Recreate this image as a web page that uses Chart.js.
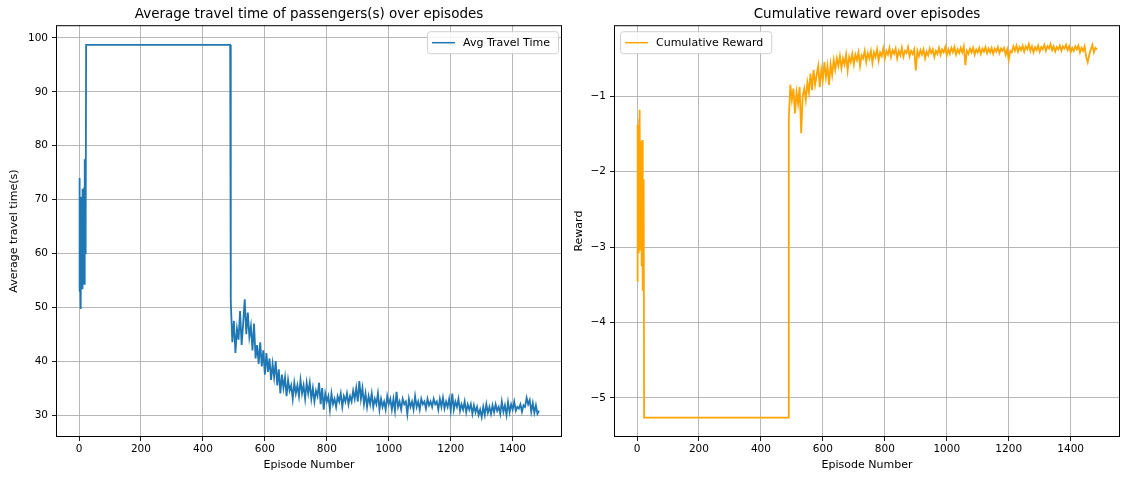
<!DOCTYPE html>
<html>
<head>
<meta charset="utf-8">
<script src="https://cdn.jsdelivr.net/npm/chart.js@4/dist/chart.umd.min.js"></script>
<style>
  html, body { margin: 0; padding: 0; background: #fff; }
  #wrap { position: relative; width: 1124px; height: 477px; }
  canvas { position: absolute; top: 0; }
</style>
</head>
<body>
<div id="wrap">
  <canvas id="travelChart" width="565" height="477" style="left:0"></canvas>
  <canvas id="rewardChart" width="559" height="477" style="left:565px"></canvas>
</div>
<script>
// episodes 0..22, one value per episode
var earlyTravel = [53, 74, 53.5, 70.5, 55, 68, 49.7, 70.5, 54, 66, 53.5, 72, 55, 70, 54.2, 68, 56, 72.3, 54.2, 77.5, 60, 75, 64.5];
var earlyReward = [-3.45, -1.43, -2.9, -1.38, -3.07, -1.6, -2.2, -1.3, -3.05, -1.18, -2.6, -1.6, -3.0, -1.6, -3.25, -1.8, -2.7, -1.58, -3.58, -2.1, -3.3, -2.1, -2.12];

// flat stretch
var plateauEpisodes = [23, 488];
var plateauTravel = [98.7, 98.7];
var plateauReward = [-5.26, -5.26];

// episodes 490..1485, every 5th episode
var lateStart = 490;
var lateStep = 5;
var lateTravel = [
  51, 43.5, 47.5, 41.5, 46, 44, 49.3, 43, 47, 51.5,
  45, 49, 44.5, 46.5, 42, 47, 40.5, 43, 39.5, 43.5,
  39, 42, 37.5, 41.5, 38, 40.5, 36.5, 39.5, 37, 40,
  35.5, 38.5, 34, 37.5, 35, 37, 33.5, 36.5, 34.5, 35.5,
  33, 36, 34, 35.5, 33.5, 36.5, 34, 35.5, 33, 36,
  34, 36, 33, 35, 32.5, 34.5, 33.5, 36, 32, 35,
  31, 34, 32.5, 33.5, 31, 34, 32, 33, 31.5, 33.5,
  32.5, 34, 31.5, 33.5, 32.5, 34, 32, 33.5, 32.5, 34.5,
  33, 35, 32.5, 36.3, 33, 35, 32, 34, 31.5, 33.5,
  32, 34, 31.5, 33, 32, 34, 31, 33, 31.5, 32.5,
  31, 33.5, 32, 33, 31, 33, 30.8, 34.3, 31.5, 32.5,
  31, 33, 32, 32.5, 30.2, 33, 31.5, 32.5, 31, 33.5,
  31.5, 32.5, 31, 33, 32, 32.5, 31.2, 33, 31.8, 32.5,
  31.5, 33, 32, 32.5, 31, 33, 31.5, 33.2, 31.2, 32.5,
  31.5, 33, 30.8, 34, 31, 32.5, 31.5, 33, 30.8, 32,
  31, 32.5, 30.5, 32, 31, 32, 30.2, 31.8, 30.5, 31.5,
  30, 31, 29.6, 31.5, 30, 32, 30.4, 31.5, 30.2, 31.8,
  30.5, 32, 30.8, 31.5, 30.2, 32.5, 30.6, 31.8, 30, 32.4,
  30.5, 32, 31, 32.5, 30.8, 31.5, 31.2, 32, 30.6, 31.8,
  31.5, 33.2, 32, 32.8, 30.6, 32.2, 30.4, 31.8, 30.2, 30.8
];
var lateReward = [
  -1.3, -0.85, -1.05, -0.9, -1.23, -0.95, -1.1, -0.88, -1.49, -1.0,
  -0.9, -1.05, -0.82, -0.95, -0.7, -0.92, -0.65, -0.85, -0.72, -0.6,
  -0.88, -0.65, -0.78, -0.55, -0.75, -0.6, -0.85, -0.58, -0.72, -0.52,
  -0.65, -0.5, -0.6, -0.47, -0.63, -0.5, -0.58, -0.45, -0.66, -0.48,
  -0.55, -0.44, -0.58, -0.45, -0.52, -0.42, -0.6, -0.46, -0.5, -0.4,
  -0.55, -0.43, -0.5, -0.4, -0.56, -0.42, -0.48, -0.38, -0.53, -0.42,
  -0.47, -0.37, -0.5, -0.4, -0.45, -0.36, -0.48, -0.39, -0.44, -0.37,
  -0.5, -0.4, -0.46, -0.36, -0.48, -0.4, -0.43, -0.35, -0.47, -0.4,
  -0.44, -0.38, -0.66, -0.4, -0.47, -0.39, -0.45, -0.38, -0.5, -0.41,
  -0.46, -0.37, -0.43, -0.38, -0.48, -0.4, -0.44, -0.36, -0.45, -0.38,
  -0.42, -0.35, -0.46, -0.38, -0.44, -0.36, -0.42, -0.35, -0.45, -0.38,
  -0.43, -0.36, -0.42, -0.34, -0.59, -0.4, -0.44, -0.37, -0.42, -0.36,
  -0.45, -0.38, -0.42, -0.36, -0.44, -0.37, -0.41, -0.35, -0.43, -0.37,
  -0.42, -0.36, -0.44, -0.37, -0.41, -0.35, -0.43, -0.37, -0.4, -0.36,
  -0.45, -0.38, -0.52, -0.4, -0.42, -0.34, -0.4, -0.33, -0.41, -0.35,
  -0.39, -0.33, -0.41, -0.34, -0.38, -0.31, -0.4, -0.34, -0.42, -0.35,
  -0.39, -0.33, -0.41, -0.35, -0.38, -0.32, -0.4, -0.34, -0.37, -0.31,
  -0.39, -0.34, -0.41, -0.35, -0.38, -0.33, -0.4, -0.34, -0.37, -0.32,
  -0.39, -0.34, -0.42, -0.36, -0.4, -0.34, -0.38, -0.33, -0.42, -0.36,
  -0.4, -0.34, -0.48, -0.55, -0.45, -0.38, -0.32, -0.42, -0.36, -0.38
];

var xTicks = [0, 200, 400, 600, 800, 1000, 1200, 1400];
var travelTicks = [30, 40, 50, 60, 70, 80, 90, 100];
var rewardTicks = [-5, -4, -3, -2, -1];

Chart.defaults.font.family = "'DejaVu Sans', sans-serif";
Chart.defaults.color = '#000';

function buildPoints(early, plateau, late) {
    var pts = [];
    early.forEach(function (v, i) { pts.push({ x: i, y: v }); });
    plateau.forEach(function (v, i) { pts.push({ x: plateauEpisodes[i], y: v }); });
    late.forEach(function (v, i) { pts.push({ x: lateStart + i * lateStep, y: v }); });
    return pts;
}

// рамка вокруг области графика + легенда в стиле matplotlib
var framePlugin = {
    id: 'frame',
    afterDatasetsDraw: function (chart, args, opts) {
        var a = chart.chartArea, ctx = chart.ctx;
        ctx.save();
        ctx.strokeStyle = '#000';
        ctx.lineWidth = 1;
        ctx.strokeRect(a.left + 0.5, a.top + 0.5, a.right - a.left - 1, a.bottom - a.top - 1);

        var ds = chart.data.datasets[0];
        ctx.font = "11px 'DejaVu Sans'";
        var tw = ctx.measureText(ds.label).width;
        var w = 6 + 24 + 8 + tw + 6, h = 22;
        var x = opts.side === 'right' ? a.right - 4 - w : a.left + 6;
        var y = a.top + 6;
        ctx.fillStyle = 'rgba(255,255,255,0.85)';
        ctx.strokeStyle = '#d0d0d0';
        ctx.beginPath();
        ctx.roundRect(x + 0.5, y + 0.5, w, h, 3);
        ctx.fill();
        ctx.stroke();
        ctx.strokeStyle = ds.borderColor;
        ctx.lineWidth = 1.5;
        ctx.beginPath();
        ctx.moveTo(x + 5, y + h / 2 + 0.5);
        ctx.lineTo(x + 28, y + h / 2 + 0.5);
        ctx.stroke();
        ctx.fillStyle = '#000';
        ctx.textBaseline = 'middle';
        ctx.fillText(ds.label, x + 36, y + h / 2 + 1);
        ctx.restore();
    }
};

function makeChart(canvasId, title, yTitle, label, color, points, yMin, yMax, yTickList, yAxisWidth, padRight, legendSide) {
    var ctx = document.getElementById(canvasId);
    return new Chart(ctx, {
        type: 'line',
        data: {
            datasets: [{
                label: label,
                data: points,
                borderColor: color,
                backgroundColor: color,
                borderWidth: 1.8,
                pointRadius: 0,
                tension: 0,
                fill: false
            }]
        },
        options: {
            responsive: false,
            animation: false,
            devicePixelRatio: 1,
            layout: { padding: { left: 0, right: padRight, top: 0, bottom: 0 } },
            plugins: {
                legend: { display: false },
                tooltip: { enabled: false },
                title: {
                    display: true, text: title, fullSize: false,
                    font: { size: 13.5, weight: 'normal' }, color: '#000',
                    padding: { top: 6, bottom: 3 }
                },
                frame: { side: legendSide }
            },
            scales: {
                x: {
                    type: 'linear', min: -74.25, max: 1559.25,
                    afterBuildTicks: function (axis) { axis.ticks = xTicks.map(function (v) { return { value: v }; }); },
                    afterFit: function (axis) { axis.height = 40; },
                    ticks: { font: { size: 10.5 }, color: '#000', padding: 2, maxRotation: 0, callback: function (v) { return String(v); } },
                    grid: { color: '#b0b0b0', lineWidth: 0.9, tickColor: '#000', tickLength: 4 },
                    border: { display: false },
                    title: { display: true, text: 'Episode Number', font: { size: 11 }, color: '#000', padding: { top: 0, bottom: 5 } }
                },
                y: {
                    type: 'linear', min: yMin, max: yMax,
                    afterBuildTicks: function (axis) { axis.ticks = yTickList.map(function (v) { return { value: v }; }); },
                    afterFit: function (axis) { axis.width = yAxisWidth; },
                    ticks: { font: { size: 10.5 }, color: '#000', padding: 4, callback: function (v) { return String(v).replace('-', '\u2212'); } },
                    grid: { color: '#b0b0b0', lineWidth: 0.9, tickColor: '#000', tickLength: 4 },
                    border: { display: false },
                    title: { display: true, text: yTitle, font: { size: 11 }, color: '#000', padding: { top: 8, bottom: 0 } }
                }
            }
        },
        plugins: [framePlugin]
    });
}

var TravelChart = makeChart('travelChart', 'Average travel time of passengers(s) over episodes', 'Average travel time(s)',
    'Avg Travel Time', '#1f77b4', buildPoints(earlyTravel, plateauTravel, lateTravel),
    25.92, 102.36, travelTicks, 56, 3, 'right');

var RewardChart = makeChart('rewardChart', 'Cumulative reward over episodes', 'Reward',
    'Cumulative Reward', '#ffa500', buildPoints(earlyReward, plateauReward, lateReward),
    -5.517, -0.06, rewardTicks, 49, 4, 'left');
</script>
</body>
</html>
